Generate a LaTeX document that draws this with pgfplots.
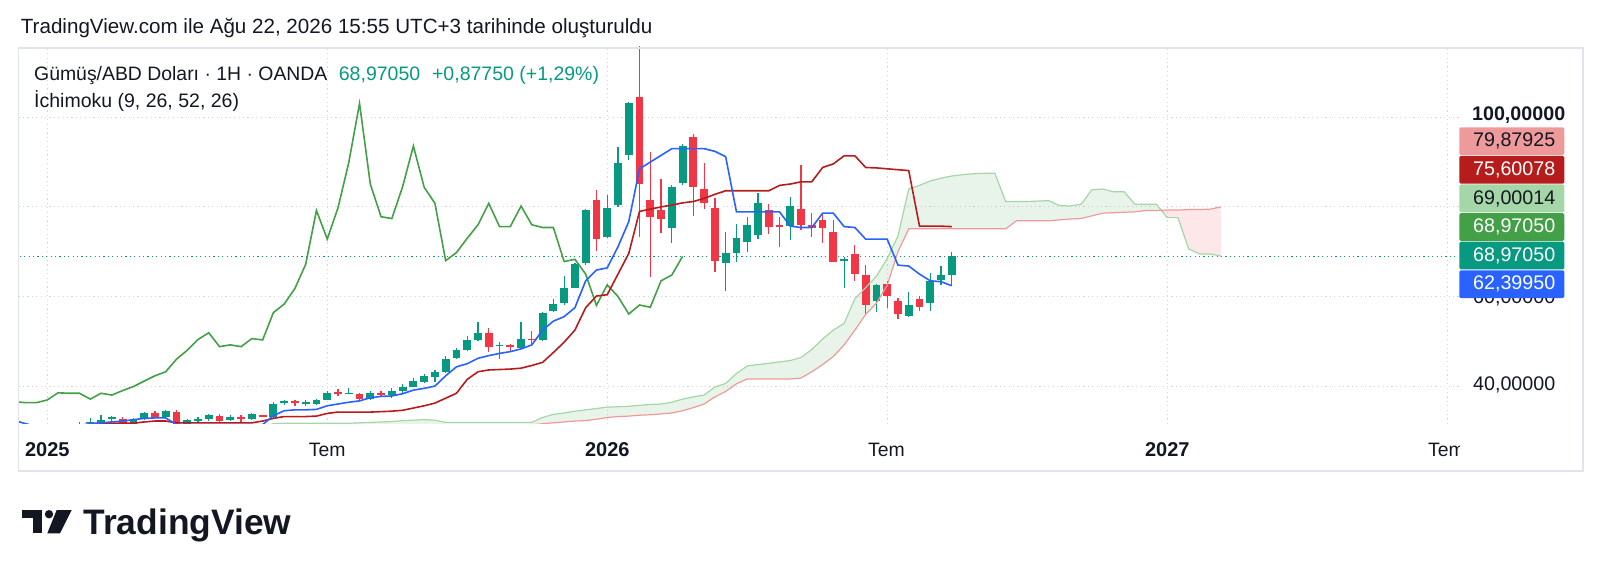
\documentclass[border=0pt]{standalone}
\usepackage{fontspec}
\setmainfont{Liberation Sans}
\usepackage{pgfplots}
\pgfplotsset{compat=1.18}
\usepgfplotslibrary{fillbetween}
\usepackage{pgfplotstable}

\definecolor{upc}{HTML}{089981}
\definecolor{dnc}{HTML}{F23645}
\definecolor{tkc}{HTML}{2962FF}
\definecolor{kjc}{HTML}{B71C1C}
\definecolor{chc}{HTML}{43A047}
\definecolor{sac}{HTML}{A5D6A7}
\definecolor{sbc}{HTML}{EF9A9A}
\definecolor{txt}{HTML}{131722}
\definecolor{gridc}{HTML}{D3D6DD}
\definecolor{framec}{HTML}{E0E3EB}

\newcommand\fs[1]{\fontsize{#1}{#1}\selectfont}

% rising weekly candles, b = week index (0 = first week of 2025)
\pgfplotstableread{
b O H L C
0 29.4 30.3 28.9 30.0
1 30.0 31.0 29.6 30.5
2 30.5 31.3 29.9 30.7
3 30.8 31.9 30.4 31.6
4 31.8 32.8 31.3 31.9
5 31.8 33.5 31.3 32.4
6 32.8 33.4 32.1 32.9
8 31.6 32.9 31.4 32.7
9 32.7 34.3 32.4 34.1
11 33.1 34.7 32.9 34.4
13 31.6 32.6 31.2 32.4
14 32.3 33.0 31.9 32.5
15 32.6 33.8 32.3 33.5
17 32.5 33.5 32.2 33.0
19 32.6 34.0 32.4 33.7
21 33.2 36.4 32.9 36.0
22 36.3 37.0 35.8 36.5
24 36.1 36.8 35.5 36.3
25 36.0 37.2 35.7 36.9
26 37.0 38.9 36.8 38.5
28 38.3 39.6 38.2 38.4
30 37.1 38.8 36.8 38.4
32 38.0 39.5 37.4 39.0
33 38.8 40.5 38.3 39.9
34 39.9 41.7 39.8 41.1
35 41.0 42.6 40.8 42.3
36 42.0 43.5 41.0 43.2
37 43.1 46.8 43.0 46.0
38 46.2 48.4 46.0 48.0
39 48.1 51.2 47.8 50.4
40 50.3 54.4 50.1 51.9
42 48.9 49.8 46.0 49.2
44 48.6 54.4 48.4 50.6
46 50.3 56.5 50.0 56.4
47 56.8 59.4 56.6 58.3
48 58.5 64.6 58.1 61.8
49 62.0 67.5 61.8 67.2
50 67.4 79.5 67.0 79.2
52 73.3 82.6 73.0 79.8
53 80.4 93.3 80.0 89.9
54 91.6 103.5 90.5 103.1
58 75.4 84.8 72.0 84.5
59 85.3 94.0 84.9 93.6
63 67.4 74.5 61.3 69.8
64 69.6 76.2 67.8 73.0
65 72.2 77.7 70.0 76.0
66 73.7 83.0 72.8 80.8
69 75.7 82.1 72.5 80.2
74 68.1 68.9 61.8 68.3
77 59.1 62.9 56.6 62.6
80 55.6 60.9 55.5 58.1
82 58.6 65.2 56.8 63.5
83 63.7 66.8 62.6 64.8
84 64.8 70.0 62.6 68.97
}\upt

% falling weekly candles
\pgfplotstableread{
b O H L C
7 32.7 33.0 31.4 31.5
10 34.0 34.5 32.8 33.0
12 34.3 34.7 28.3 31.6
16 33.3 33.7 31.9 32.3
18 32.9 33.6 31.9 32.8
20 33.5 33.6 33.1 33.2
23 36.5 37.0 35.6 36.3
27 38.6 39.3 37.7 38.4
29 38.2 38.5 36.9 37.1
31 38.5 38.8 37.6 38.0
41 51.9 52.9 47.7 48.8
43 49.0 49.4 47.8 48.8
45 50.5 52.3 49.0 50.3
51 81.5 83.8 70.2 72.8
55 104.5 121.6 73.3 85.1
56 81.5 92.2 64.3 77.8
57 79.4 86.3 74.2 77.4
60 95.7 96.3 78.0 84.4
61 83.9 89.9 79.6 80.8
62 79.8 81.9 65.5 68.0
67 79.3 80.6 74.0 75.6
68 75.8 77.8 71.0 75.6
70 79.5 89.4 74.8 76.0
71 76.0 78.7 73.2 75.4
72 77.1 78.7 71.9 75.4
73 74.5 77.1 67.8 67.8
75 69.5 71.5 63.5 65.0
76 64.8 67.0 56.1 58.0
78 62.9 63.5 57.4 60.0
79 59.1 59.6 54.9 56.1
81 59.4 60.1 56.8 57.6
}\dnt

% lagging span: weekly closes (plotted 25 weeks back)
\pgfplotstableread{
b C
21 36.0
22 36.5
23 36.3
24 36.3
25 36.9
26 38.5
27 38.4
28 38.4
29 37.1
30 38.4
31 38.0
32 39.0
33 39.9
34 41.1
35 42.3
36 43.2
37 46.0
38 48.0
39 50.4
40 51.9
41 48.8
42 49.2
43 48.8
44 50.6
45 50.3
46 56.4
47 58.3
48 61.8
49 67.2
50 79.2
51 72.8
52 79.8
53 89.9
54 103.1
55 85.1
56 77.8
57 77.4
58 84.5
59 93.6
60 84.4
61 80.8
62 68.0
63 69.8
64 73.0
65 76.0
66 80.8
67 75.6
68 75.6
69 80.2
70 76.0
71 75.4
72 75.4
73 67.8
74 68.3
75 65.0
76 58.0
77 62.6
78 60.0
79 56.1
80 58.1
81 57.6
82 63.5
83 64.8
84 68.97
}\chik

% Tenkan-sen
\pgfplotstableread{
b v
-3 32.3
-2 31.6
-1 31.0
0 30.7
1 30.7
2 30.9
3 31.2
4 31.6
5 31.8
6 32.0
7 32.2
8 32.5
9 32.8
10 32.9
11 32.9
12 31.4
20 31.4
21 33.4
22 34.5
23 34.7
24 34.7
25 34.8
26 35.6
27 36.0
28 36.4
29 36.7
30 37.4
31 37.7
32 37.8
33 38.3
34 39.1
35 39.5
36 40.0
37 42.3
38 44.3
39 45.0
40 46.2
41 46.8
42 47.3
43 47.7
44 48.3
45 49.2
46 52.5
47 54.5
48 55.5
49 57.5
50 63.5
51 65.9
52 66.4
53 71.1
54 76.7
55 88.5
56 90.0
57 91.5
58 93.0
61 93.0
62 92.4
63 91.2
64 78.9
68 78.9
69 75.7
70 75.4
71 75.4
72 78.6
73 78.6
74 75.6
75 75.4
76 72.8
78 72.8
79 67.0
80 66.8
81 65.0
82 63.5
83 63.3
84 62.4
}\tenkan

% Kijun-sen
\pgfplotstableread{
b v
-3 30.2
0 30.2
1 30.4
2 30.6
3 31.1
4 31.6
5 31.7
8 31.7
9 32.0
10 32.2
11 32.2
12 31.8
19 31.8
20 32.2
21 32.8
22 33.2
24 33.2
25 33.3
26 33.9
27 34.2
30 34.2
31 34.3
32 34.4
33 34.6
34 35.1
35 35.6
36 36.2
37 37.3
38 38.4
39 41.5
40 43.2
41 43.6
42 43.7
43 43.8
44 44.0
45 44.6
46 45.3
47 47.5
48 49.8
49 52.5
50 57.5
51 60.1
52 60.4
53 65.0
54 69.6
55 79.0
56 79.5
57 80.0
58 80.4
59 80.9
60 81.2
61 81.9
62 82.8
63 83.6
67 83.6
68 84.8
69 85.1
70 85.6
71 85.6
72 88.8
73 89.6
74 91.4
75 91.4
76 88.8
77 88.7
78 88.5
79 88.3
80 88.1
81 75.7
83 75.7
84 75.6
}\kijun

% Senkou span A (displaced forward); 103.45 = crossing with span B
\pgfplotstableread{
b v
20 31.0
21 31.6
22 31.7
28 31.7
29 31.8
30 31.9
31 32.0
32 32.1
33 32.3
34 32.4
35 32.5
36 32.4
37 31.9
45 31.9
46 33.0
47 33.7
48 34.0
49 34.4
50 34.7
51 35.0
52 35.3
53 35.4
54 35.5
55 35.7
56 35.9
57 36.0
58 36.4
59 37.1
60 37.6
61 38.0
62 39.8
63 40.6
64 42.8
65 44.5
66 44.8
67 45.1
68 45.4
69 45.7
70 46.4
71 48.2
72 50.5
73 52.5
74 54.0
75 59.5
76 62.0
77 64.5
78 68.5
79 73.5
80 84.0
81 84.8
82 85.8
83 86.4
84 86.9
85 87.2
86 87.4
87 87.5
88 87.5
89 81.2
90 81.2
91 81.2
92 81.3
93 81.4
94 80.3
95 80.2
96 80.6
97 83.8
98 84.0
99 83.4
100 83.4
101 80.6
102 80.6
103 80.6
103.45 79.25
104 77.6
105 77.6
106 70.6
107 69.5
108 69.5
109 69.0
}\spanA

% Senkou span B (displaced forward)
\pgfplotstableread{
b v
20 31.0
45 31.3
46 31.6
47 31.8
48 32.0
49 32.2
50 32.3
51 32.6
52 33.0
53 33.2
54 33.3
55 33.5
56 33.6
57 33.8
58 34.0
59 34.5
60 35.2
61 36.0
62 37.6
63 38.8
64 40.5
65 41.6
69 41.6
70 41.8
71 43.2
72 44.8
73 46.6
74 49.2
75 52.5
76 56.0
77 58.5
78 62.5
79 70.0
80 75.1
89 75.1
90 76.9
93 76.9
94 77.1
95 77.3
96 77.4
97 78.0
98 78.6
99 78.7
100 78.8
101 78.9
102 79.2
103 79.2
103.45 79.25
104 79.3
105 79.3
106 79.4
107 79.4
108 79.5
109 80.0
}\spanB

\begin{document}
\begin{tikzpicture}
\begin{axis}[
  at={(9.25pt,74.5pt)}, anchor=south west,
  scale only axis, width=720.25pt, height=188.65pt,
  xmin=-2.67, xmax=131.1, ymin=31.54, ymax=115.76,
  xtick={0,26,52,78,104,130}, ytick={40,60,80,100},
  xticklabels={}, yticklabels={},
  major tick length=0pt,
  axis line style={draw=none},
  grid=major,
  major grid style={gridc, line width=0.5pt, dash pattern=on 0.6pt off 1.6pt},
  clip=true,
]
% last price line
\addplot[upc, line width=0.5pt, dash pattern=on 0.6pt off 1.6pt, forget plot]
  coordinates {(-5,68.97) (135,68.97)};

% candles: wicks (low to high) and bodies (open/close)
\addplot[upc, line width=0.6pt, mark=none, -, forget plot, quiver={u value=0, v=\thisrow{H}-\thisrow{L}}]
  table[x=b, y=L] {\upt};
\addplot[dnc, line width=0.6pt, mark=none, -, forget plot, quiver={u value=0, v=\thisrow{H}-\thisrow{L}}]
  table[x=b, y=L] {\dnt};
\addplot[upc, line width=3.9pt, mark=none, -, forget plot, quiver={u value=0, v={max(\thisrow{C}-\thisrow{O},0.34)}}]
  table[x=b, y expr={min(\thisrow{O},(\thisrow{O}+\thisrow{C})/2-0.17)}] {\upt};
\addplot[dnc, line width=3.9pt, mark=none, -, forget plot, quiver={u value=0, v={max(\thisrow{O}-\thisrow{C},0.34)}}]
  table[x=b, y expr={min(\thisrow{C},(\thisrow{O}+\thisrow{C})/2-0.17)}] {\dnt};

% cloud
\addplot[name path=A1, draw=none, forget plot, restrict x to domain=20:103.45] table[x=b, y=v] {\spanA};
\addplot[name path=B1, draw=none, forget plot, restrict x to domain=20:103.45] table[x=b, y=v] {\spanB};
\addplot[name path=A2, draw=none, forget plot, restrict x to domain=103.45:109] table[x=b, y=v] {\spanA};
\addplot[name path=B2, draw=none, forget plot, restrict x to domain=103.45:109] table[x=b, y=v] {\spanB};
\addplot[fill=chc, fill opacity=0.12, draw=none, forget plot] fill between[of=A1 and B1];
\addplot[fill=dnc, fill opacity=0.12, draw=none, forget plot] fill between[of=A2 and B2];
\addplot[sac, line width=0.6pt, forget plot] table[x=b, y=v] {\spanA};
\addplot[sbc, line width=0.6pt, forget plot] table[x=b, y=v] {\spanB};

% lagging span
\addplot[chc, line width=0.8pt, forget plot] table[x expr={\thisrow{b}-25}, y=C] {\chik};
% base line
\addplot[kjc, line width=0.8pt, forget plot] table[x=b, y=v] {\kijun};
% conversion line
\addplot[tkc, line width=0.8pt, forget plot] table[x=b, y=v] {\tenkan};
\end{axis}

\begin{scope}[x=0.5pt, y=-0.5pt, shift={(0pt,286.5pt)}]
% frame
\draw[framec, line width=0.6pt] (18.5,48) rectangle (1583,471);

% header texts
\node[anchor=base west, inner sep=0, text=txt, font=\fs{10.3}] at (20.5,33.5)
  {TradingView.com ile Ağu 22, 2026 15:55 UTC+3 tarihinde oluşturuldu};
\node[anchor=base west, inner sep=0, text=txt, font=\fs{9.7}] at (33.8,80.7)
  {Gümüş/ABD Doları · 1H · OANDA};
\node[anchor=base west, inner sep=0, text=upc, font=\fs{9.75}] at (338.5,80.7) {68,97050};
\node[anchor=base west, inner sep=0, text=upc, font=\fs{9.75}] at (431.7,80.7) {+0,87750 (+1,29\%)};
\node[anchor=base west, inner sep=0, text=txt, font=\fs{9.75}] at (33.8,108) {İchimoku (9, 26, 52, 26)};

% time axis labels
\node[anchor=base, inner sep=0, text=txt, font=\fs{10}\bfseries] at (47.3,456.7) {2025};
\node[anchor=base, inner sep=0, text=txt, font=\fs{9.7}] at (327.3,456.7) {Tem};
\node[anchor=base, inner sep=0, text=txt, font=\fs{10}\bfseries] at (607.3,456.7) {2026};
\node[anchor=base, inner sep=0, text=txt, font=\fs{9.7}] at (886.5,456.7) {Tem};
\node[anchor=base, inner sep=0, text=txt, font=\fs{10}\bfseries] at (1167.3,456.7) {2027};
\begin{scope}
\clip (1400,430) rectangle (1459,470);
\node[anchor=base, inner sep=0, text=txt, font=\fs{9.7}] at (1446.4,456.7) {Tem};
\end{scope}

% price scale labels (60 is partly hidden by the tags)
\node[anchor=base west, inner sep=0, text=txt, font=\fs{9.85}\bfseries] at (1471.7,121) {100,00000};
\node[anchor=base west, inner sep=0, text=txt, font=\fs{9.85}] at (1472.7,303.5) {60,00000};
\node[anchor=base west, inner sep=0, text=txt, font=\fs{9.85}] at (1472.7,390.8) {40,00000};

% value tags
\fill[sbc, rounded corners=0.75pt] (1459.3,127.3) rectangle (1564.3,155.1);
\node[anchor=base west, inner sep=0, text=txt, font=\fs{9.85}] at (1472.7,146.9) {79,87925};
\fill[kjc, rounded corners=0.75pt] (1459.3,155.9) rectangle (1564.3,183.7);
\node[anchor=base west, inner sep=0, text=white, font=\fs{9.85}] at (1472.7,175.5) {75,60078};
\fill[sac, rounded corners=0.75pt] (1459.3,184.5) rectangle (1564.3,212.3);
\node[anchor=base west, inner sep=0, text=txt, font=\fs{9.85}] at (1472.7,204.1) {69,00014};
\fill[chc, rounded corners=0.75pt] (1459.3,213.1) rectangle (1564.3,240.9);
\node[anchor=base west, inner sep=0, text=white, font=\fs{9.85}] at (1472.7,232.7) {68,97050};
\fill[upc, rounded corners=0.75pt] (1459.3,241.7) rectangle (1564.3,269.5);
\node[anchor=base west, inner sep=0, text=white, font=\fs{9.85}] at (1472.7,261.3) {68,97050};
\fill[tkc, rounded corners=0.75pt] (1459.3,270.3) rectangle (1564.3,298.1);
\node[anchor=base west, inner sep=0, text=white, font=\fs{9.85}] at (1472.7,289.9) {62,39950};

% TradingView logo
\fill[txt] (21.7,510) rectangle (41.7,517.5);
\fill[txt] (32.7,510) rectangle (41.7,533.3);
\fill[txt] (49,514.2) circle (2.1pt);
\fill[txt] (56.7,510) -- (71.7,510) -- (60,533.3) -- (47.3,533.3) -- cycle;
\node[anchor=base west, inner sep=0, text=txt, font=\fs{17.7}\bfseries] at (83,534) {TradingView};
\end{scope}
\pgfresetboundingbox
\useasboundingbox (0pt,0pt) rectangle (800pt,286.5pt);
\end{tikzpicture}
\end{document}
